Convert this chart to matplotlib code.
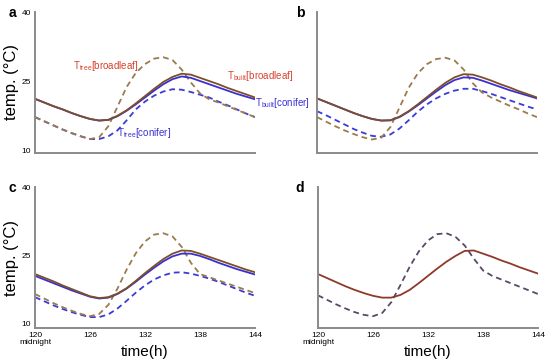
import numpy as np
import matplotlib
matplotlib.use("Agg")
import matplotlib.pyplot as plt

plt.rcParams['font.family'] = ['Liberation Sans', 'DejaVu Sans']
plt.rcParams['mathtext.fontset'] = 'custom'
plt.rcParams['mathtext.rm'] = 'Liberation Sans'

# hours 120..144, one value per hour
hours = np.arange(120, 145)

# panel a
a_built_broad = [21.2, 20.4, 19.6, 18.9, 18.1, 17.4, 16.8, 16.45, 16.6, 17.5, 18.7, 20.2, 21.8,
                 23.4, 24.9, 26.0, 26.7, 26.5, 25.8, 25.1, 24.4, 23.6, 22.9, 22.2, 21.5]
a_built_conif = [21.2, 20.4, 19.6, 18.9, 18.1, 17.4, 16.8, 16.45, 16.6, 17.4, 18.6, 20.0, 21.5,
                 23.0, 24.4, 25.5, 26.1, 25.8, 25.1, 24.4, 23.7, 23.0, 22.3, 21.7, 21.1]
a_tree_broad = [17.2, 16.3, 15.4, 14.5, 13.7, 13.0, 12.4, 12.8, 15.2, 19.5, 23.8, 26.9, 28.8,
                30.0, 30.3, 29.7, 27.6, 24.8, 22.4, 21.1, 20.4, 19.6, 18.8, 18.0, 17.2]
a_tree_conif = [17.2, 16.3, 15.4, 14.5, 13.7, 13.0, 12.4, 12.4, 13.0, 14.3, 16.5, 18.9, 20.6,
                21.9, 22.8, 23.3, 23.2, 22.7, 22.1, 21.5, 20.6, 19.8, 18.9, 18.0, 17.2]

# panel b
b_built_broad = [21.3, 20.5, 19.7, 18.9, 18.1, 17.4, 16.8, 16.45, 16.5, 17.3, 18.5, 20.0, 21.6,
                 23.2, 24.7, 25.9, 26.6, 26.5, 25.9, 25.2, 24.4, 23.7, 22.9, 22.2, 21.5]
b_built_conif = [21.3, 20.5, 19.7, 18.9, 18.1, 17.4, 16.8, 16.45, 16.5, 17.2, 18.4, 19.8, 21.3,
                 22.8, 24.2, 25.3, 25.9, 25.8, 25.2, 24.5, 23.8, 23.1, 22.5, 21.9, 21.3]
b_tree_broad = [17.2, 16.2, 15.2, 14.3, 13.5, 12.8, 12.3, 12.7, 15.0, 19.3, 23.6, 26.8, 28.8,
                29.9, 30.2, 29.6, 27.6, 24.6, 22.6, 21.5, 20.6, 19.7, 18.9, 18.0, 17.2]
b_tree_conif = [18.5, 17.6, 16.6, 15.6, 14.6, 13.8, 13.1, 12.9, 13.4, 14.7, 16.5, 18.4, 20.0,
                21.3, 22.3, 23.0, 23.4, 23.4, 22.9, 22.3, 21.6, 20.9, 20.2, 19.5, 18.9]

# panel c
c_built_broad = [21.0, 20.2, 19.4, 18.5, 17.7, 16.9, 16.1, 15.7, 15.9, 16.7, 17.9, 19.5, 21.2,
                 22.8, 24.3, 25.5, 26.2, 26.1, 25.5, 24.8, 24.1, 23.4, 22.7, 22.0, 21.4]
c_built_conif = [20.6, 19.8, 19.0, 18.2, 17.4, 16.7, 16.0, 15.6, 15.8, 16.6, 17.8, 19.3, 20.9,
                 22.4, 23.8, 24.9, 25.5, 25.5, 25.0, 24.3, 23.5, 22.8, 22.1, 21.5, 20.9]
c_tree_broad = [16.6, 15.6, 14.6, 13.7, 12.9, 12.2, 11.7, 12.2, 14.2, 17.8, 22.0, 25.6, 28.2,
                29.7, 30.0, 29.3, 27.0, 23.5, 21.0, 20.3, 19.6, 18.9, 18.2, 17.5, 16.8]
c_tree_conif = [15.9, 15.0, 14.1, 13.3, 12.6, 12.0, 11.5, 11.5, 12.1, 13.4, 15.1, 16.9, 18.5,
                19.8, 20.7, 21.3, 21.4, 21.1, 20.6, 20.0, 19.3, 18.5, 17.7, 16.9, 16.2]

# panel d
d_built = [21.0, 20.1, 19.2, 18.3, 17.5, 16.8, 16.2, 15.8, 15.8, 16.4, 17.5, 19.0, 20.6,
           22.2, 23.7, 25.0, 26.1, 26.2, 25.5, 24.8, 24.0, 23.3, 22.5, 21.8, 21.1]
d_tree = [16.3, 15.3, 14.3, 13.4, 12.6, 12.0, 11.7, 12.4, 14.8, 18.6, 22.6, 26.0, 28.4,
          29.8, 30.0, 29.2, 27.3, 24.4, 21.8, 20.6, 19.8, 19.0, 18.2, 17.4, 16.6]

xticks = [120, 126, 132, 138, 144]
xticklabels = ['120\nmidnight', '126', '132', '138', '144']
yticks = [10, 25, 40]

c_brown = '#7d4e2a'
c_blue = '#3a30d2'
c_brown_d = '#9b7b4e'
c_blue_d = '#3b3bd6'

fig = plt.figure(figsize=(5.5, 3.61), dpi=100)
W, H = 550, 361

def make_ax(left, top, bottom, ylim):
    ax = fig.add_axes([left / W, 1 - bottom / H, 220 / W, (bottom - top) / H])
    ax.set_xlim(120, 144)
    ax.set_ylim(*ylim)
    for s in ['top', 'right']:
        ax.spines[s].set_visible(False)
    for s in ['left', 'bottom']:
        ax.spines[s].set_color('#8a8a8a')
        ax.spines[s].set_linewidth(1.4)
    ax.tick_params(length=0, labelsize=6, pad=3)
    ax.set_xticks(xticks)
    ax.set_yticks(yticks)
    return ax

ax_a = make_ax(35, 12, 153, (9.35, 40.2))
ax_b = make_ax(317, 12, 153, (9.35, 40.2))
ax_c = make_ax(35, 187, 328, (9.1, 40.2))
ax_d = make_ax(318, 187, 328, (9.1, 40.2))

dash = (3.2, 2.2)
for ax, bb, bc, tb, tc in [(ax_a, a_built_broad, a_built_conif, a_tree_broad, a_tree_conif),
                           (ax_b, b_built_broad, b_built_conif, b_tree_broad, b_tree_conif),
                           (ax_c, c_built_broad, c_built_conif, c_tree_broad, c_tree_conif)]:
    ax.plot(hours, tc, color=c_blue_d, lw=1.3, dashes=dash)
    ax.plot(hours, tb, color=c_brown_d, lw=1.3, dashes=dash)
    ax.plot(hours, bc, color=c_blue, lw=1.3)
    ax.plot(hours, bb, color=c_brown, lw=1.3)

ax_d.plot(hours, d_tree, color='#5a4868', lw=1.3, dashes=dash)
ax_d.plot(hours, d_built, color='#8c3a2a', lw=1.3)

for ax in [ax_a, ax_b]:
    ax.set_xticklabels([])
for ax in [ax_b, ax_d]:
    ax.set_yticklabels([])
for ax in [ax_c, ax_d]:
    ax.set_xticklabels(xticklabels, linespacing=1.0)
    ax.set_xlabel('time(h)', fontsize=11, labelpad=-1)
for ax in [ax_a, ax_c]:
    ax.set_ylabel('temp. (°C)', fontsize=12, labelpad=2)

red = '#d8402c'
ax_a.text(124.1, 28.3, r'T$_{\rm tree}$[broadleaf]', color=red, fontsize=7, va='center', clip_on=False)
ax_a.text(140.9, 26.3, r'T$_{\rm built}$[broadleaf]', color=red, fontsize=7, va='center', clip_on=False)
ax_a.text(144.0, 20.2, r'T$_{\rm built}$[conifer]', color=c_blue, fontsize=7, va='center', clip_on=False)
ax_a.text(128.9, 13.7, r'T$_{\rm tree}$[conifer]', color=c_blue, fontsize=7, va='center', clip_on=False)

for lab, x, y in [('a', 12, 13), ('b', 300, 13), ('c', 12, 188), ('d', 300, 188)]:
    fig.text(x / W, 1 - y / H, lab, fontsize=10, fontweight='bold', ha='center', va='center')

fig.savefig('out.png', dpi=100)
